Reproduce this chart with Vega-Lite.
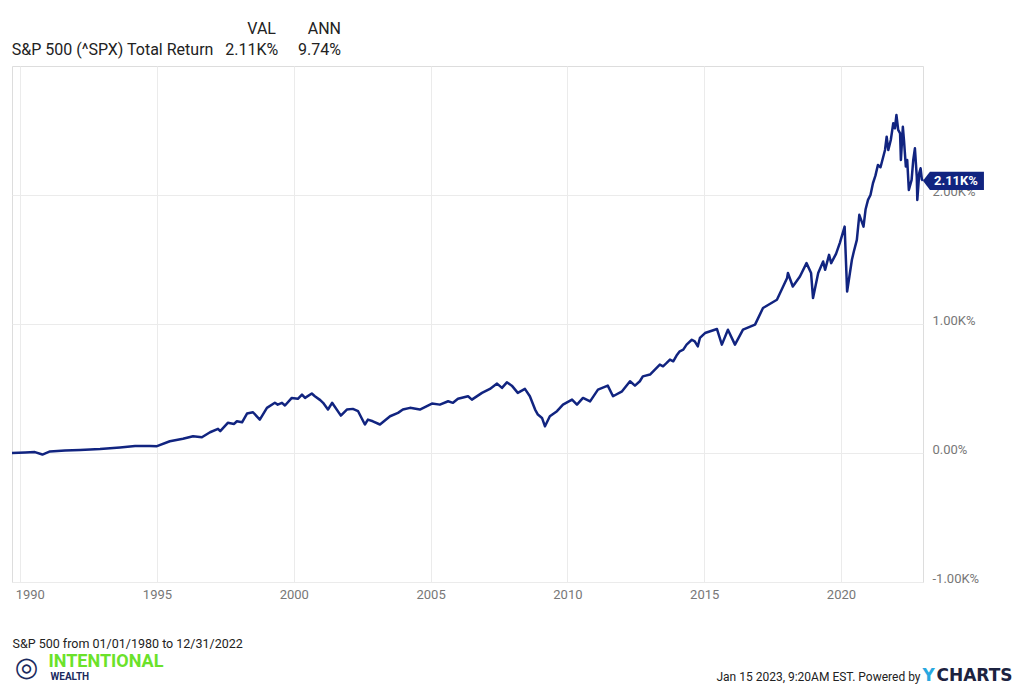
{
  "$schema": "https://vega.github.io/schema/vega-lite/v6.json",
  "width": 911,
  "height": 516,
  "autosize": {"type": "none"},
  "padding": {"left": 12, "top": 66, "right": 101, "bottom": 108},
  "background": "white",
  "config": {"font": "Roboto", "view": {"stroke": "#dddddd", "strokeWidth": 1}},
  "title": {
    "text": "VAL\u00a0\u00a0\u00a0\u00a0\u00a0\u00a0\u00a0\u00a0ANN",
    "subtitle": "S&P 500 (^SPX) Total Return\u00a0\u00a0\u00a02.11K%\u00a0\u00a0\u00a0\u00a0\u00a09.74%",
    "anchor": "start",
    "align": "right",
    "dx": 329,
    "frame": "group",
    "font": "Roboto",
    "fontSize": 16,
    "fontWeight": "normal",
    "color": "#222222",
    "subtitleFont": "Roboto",
    "subtitleFontSize": 16,
    "subtitleColor": "#222222",
    "subtitlePadding": 5,
    "offset": 8
  },
  "data": {
    "values": [
      {"date": "1989-09-14", "value": 0},
      {"date": "1990-03-08", "value": 4},
      {"date": "1990-07-17", "value": 7},
      {"date": "1990-10-25", "value": -12},
      {"date": "1991-02-03", "value": 12},
      {"date": "1991-08-23", "value": 19},
      {"date": "1992-03-11", "value": 23},
      {"date": "1992-12-03", "value": 31},
      {"date": "1993-08-26", "value": 43},
      {"date": "1994-03-15", "value": 54},
      {"date": "1994-09-28", "value": 54},
      {"date": "1995-01-01", "value": 53},
      {"date": "1995-06-22", "value": 91},
      {"date": "1995-12-14", "value": 110},
      {"date": "1996-04-27", "value": 130},
      {"date": "1996-08-23", "value": 122},
      {"date": "1996-12-10", "value": 161},
      {"date": "1997-03-26", "value": 187},
      {"date": "1997-04-25", "value": 169},
      {"date": "1997-08-04", "value": 234},
      {"date": "1997-10-27", "value": 225},
      {"date": "1997-12-03", "value": 246},
      {"date": "1998-02-10", "value": 238},
      {"date": "1998-04-17", "value": 306},
      {"date": "1998-07-06", "value": 316},
      {"date": "1998-10-05", "value": 259},
      {"date": "1999-01-08", "value": 350},
      {"date": "1999-04-24", "value": 389},
      {"date": "1999-06-01", "value": 375},
      {"date": "1999-07-28", "value": 389},
      {"date": "1999-09-06", "value": 368},
      {"date": "1999-12-06", "value": 427},
      {"date": "2000-02-25", "value": 420},
      {"date": "2000-04-20", "value": 453},
      {"date": "2000-05-31", "value": 427},
      {"date": "2000-08-29", "value": 461},
      {"date": "2000-10-09", "value": 440},
      {"date": "2000-12-20", "value": 410},
      {"date": "2001-01-27", "value": 389},
      {"date": "2001-04-02", "value": 337},
      {"date": "2001-05-27", "value": 389},
      {"date": "2001-09-21", "value": 290},
      {"date": "2001-12-10", "value": 337},
      {"date": "2002-02-28", "value": 342},
      {"date": "2002-05-09", "value": 324},
      {"date": "2002-08-08", "value": 221},
      {"date": "2002-09-17", "value": 259},
      {"date": "2002-11-22", "value": 246},
      {"date": "2003-02-25", "value": 221},
      {"date": "2003-07-10", "value": 285},
      {"date": "2003-10-24", "value": 311},
      {"date": "2003-12-28", "value": 337},
      {"date": "2004-04-01", "value": 350},
      {"date": "2004-08-11", "value": 337},
      {"date": "2005-01-19", "value": 383},
      {"date": "2005-05-05", "value": 375},
      {"date": "2005-08-23", "value": 401},
      {"date": "2005-10-27", "value": 389},
      {"date": "2006-01-01", "value": 420},
      {"date": "2006-05-16", "value": 440},
      {"date": "2006-07-06", "value": 414},
      {"date": "2006-11-18", "value": 466},
      {"date": "2007-03-04", "value": 497},
      {"date": "2007-06-07", "value": 538},
      {"date": "2007-08-12", "value": 505},
      {"date": "2007-10-16", "value": 548},
      {"date": "2007-12-21", "value": 522},
      {"date": "2008-03-10", "value": 466},
      {"date": "2008-06-13", "value": 497},
      {"date": "2008-08-18", "value": 440},
      {"date": "2008-10-27", "value": 337},
      {"date": "2008-12-03", "value": 298},
      {"date": "2009-01-27", "value": 272},
      {"date": "2009-03-08", "value": 207},
      {"date": "2009-05-12", "value": 285},
      {"date": "2009-08-15", "value": 324},
      {"date": "2009-11-03", "value": 375},
      {"date": "2010-03-04", "value": 414},
      {"date": "2010-05-09", "value": 375},
      {"date": "2010-07-28", "value": 427},
      {"date": "2010-10-31", "value": 400},
      {"date": "2011-02-13", "value": 491},
      {"date": "2011-06-24", "value": 522},
      {"date": "2011-09-02", "value": 440},
      {"date": "2012-01-01", "value": 478},
      {"date": "2012-04-16", "value": 556},
      {"date": "2012-06-21", "value": 522},
      {"date": "2012-08-25", "value": 556},
      {"date": "2012-10-04", "value": 594},
      {"date": "2013-01-08", "value": 608},
      {"date": "2013-03-14", "value": 646},
      {"date": "2013-05-19", "value": 685},
      {"date": "2013-07-01", "value": 672},
      {"date": "2013-08-18", "value": 698},
      {"date": "2013-10-01", "value": 724},
      {"date": "2013-11-14", "value": 711},
      {"date": "2013-12-28", "value": 755},
      {"date": "2014-02-09", "value": 788},
      {"date": "2014-03-28", "value": 801},
      {"date": "2014-05-11", "value": 840},
      {"date": "2014-07-20", "value": 878},
      {"date": "2014-08-28", "value": 865},
      {"date": "2014-10-08", "value": 827},
      {"date": "2014-11-05", "value": 892},
      {"date": "2015-01-12", "value": 930},
      {"date": "2015-06-21", "value": 961},
      {"date": "2015-08-25", "value": 840},
      {"date": "2015-11-14", "value": 956},
      {"date": "2016-02-16", "value": 840},
      {"date": "2016-06-02", "value": 956},
      {"date": "2016-11-10", "value": 995},
      {"date": "2017-02-24", "value": 1124},
      {"date": "2017-08-29", "value": 1188},
      {"date": "2018-01-12", "value": 1356},
      {"date": "2018-01-23", "value": 1395},
      {"date": "2018-03-29", "value": 1291},
      {"date": "2018-07-02", "value": 1368},
      {"date": "2018-09-28", "value": 1472},
      {"date": "2018-11-28", "value": 1395},
      {"date": "2018-12-24", "value": 1201},
      {"date": "2019-03-03", "value": 1395},
      {"date": "2019-05-08", "value": 1485},
      {"date": "2019-06-03", "value": 1420},
      {"date": "2019-07-26", "value": 1536},
      {"date": "2019-08-23", "value": 1472},
      {"date": "2019-10-27", "value": 1544},
      {"date": "2019-12-16", "value": 1627},
      {"date": "2020-02-19", "value": 1755},
      {"date": "2020-03-23", "value": 1252},
      {"date": "2020-05-26", "value": 1498},
      {"date": "2020-06-20", "value": 1560},
      {"date": "2020-07-31", "value": 1652},
      {"date": "2020-09-02", "value": 1846},
      {"date": "2020-10-28", "value": 1755},
      {"date": "2020-11-25", "value": 1890},
      {"date": "2020-12-27", "value": 1962},
      {"date": "2021-01-29", "value": 2000},
      {"date": "2021-03-03", "value": 2091},
      {"date": "2021-04-05", "value": 2150},
      {"date": "2021-05-08", "value": 2233},
      {"date": "2021-06-12", "value": 2215},
      {"date": "2021-08-11", "value": 2349},
      {"date": "2021-09-02", "value": 2452},
      {"date": "2021-09-24", "value": 2349},
      {"date": "2021-10-27", "value": 2426},
      {"date": "2021-11-29", "value": 2556},
      {"date": "2021-12-21", "value": 2517},
      {"date": "2022-01-10", "value": 2620},
      {"date": "2022-02-03", "value": 2504},
      {"date": "2022-02-28", "value": 2478},
      {"date": "2022-03-11", "value": 2272},
      {"date": "2022-04-06", "value": 2529},
      {"date": "2022-04-21", "value": 2426},
      {"date": "2022-05-16", "value": 2220},
      {"date": "2022-06-03", "value": 2272},
      {"date": "2022-06-25", "value": 2039},
      {"date": "2022-08-01", "value": 2117},
      {"date": "2022-08-23", "value": 2272},
      {"date": "2022-09-14", "value": 2362},
      {"date": "2022-10-09", "value": 2142},
      {"date": "2022-10-16", "value": 1962},
      {"date": "2022-11-11", "value": 2169},
      {"date": "2022-11-29", "value": 2207},
      {"date": "2022-12-16", "value": 2120},
      {"date": "2022-12-30", "value": 2110}
    ]
  },
  "layer": [
    {
      "mark": {"type": "line", "color": "#112480", "strokeWidth": 2.5, "strokeJoin": "round"},
      "encoding": {
        "x": {
          "field": "date",
          "type": "temporal",
          "scale": {"domain": [{"year": 1989, "month": 9, "date": 14}, {"year": 2022, "month": 12, "date": 31}]},
          "axis": {
            "values": [{"year": 1990}, {"year": 1995}, {"year": 2000}, {"year": 2005}, {"year": 2010}, {"year": 2015}, {"year": 2020}],
            "format": "%Y",
            "labelFont": "Roboto",
            "labelFontSize": 13,
            "labelColor": "#777777",
            "labelPadding": 6,
            "labelFlush": 10,
            "labelFlushOffset": 5,
            "ticks": false,
            "domain": false,
            "grid": true,
            "gridColor": "#ebebeb",
            "title": "S&P 500 from 01/01/1980 to 12/31/2022",
            "titleX": 0,
            "titleY": 65.5,
            "titleAlign": "left",
            "titleBaseline": "alphabetic",
            "titleFont": "Roboto",
            "titleFontSize": 12.5,
            "titleFontWeight": "normal",
            "titleColor": "#222222"
          }
        },
        "y": {
          "field": "value",
          "type": "quantitative",
          "scale": {"domain": [-1000, 3000], "nice": false},
          "axis": {
            "orient": "right",
            "values": [-1000, 0, 1000, 2000],
            "labelExpr": "datum.value == 0 ? '0.00%' : (datum.value < 0 ? '-' : '') + format(abs(datum.value) / 1000, '.2f') + 'K%'",
            "labelFont": "Roboto",
            "labelFontSize": 13,
            "labelColor": "#777777",
            "labelPadding": 9,
            "labelBaseline": "alphabetic",
            "ticks": false,
            "domain": false,
            "grid": true,
            "gridColor": "#ebebeb",
            "title": "Jan 15 2023, 9:20AM EST. Powered by",
            "titleAngle": 0,
            "titleX": -3,
            "titleY": 614,
            "titleAlign": "right",
            "titleBaseline": "alphabetic",
            "titleFont": "Roboto",
            "titleFontSize": 12,
            "titleFontWeight": "normal",
            "titleColor": "#222222"
          }
        }
      }
    },
    {
      "transform": [{"filter": "datum.value == 2110"}],
      "mark": {"type": "point", "shape": "M0,0L0.23,-0.3L2,-0.3L2,0.3L0.23,0.3Z", "size": 3721, "filled": true, "color": "#112480", "opacity": 1, "strokeWidth": 0},
      "encoding": {
        "x": {
          "field": "date",
          "type": "temporal",
          "axis": {
            "orient": "bottom",
            "labels": false,
            "ticks": false,
            "domain": false,
            "grid": false,
            "title": "INTENTIONAL",
            "titleX": 36,
            "titleY": 84,
            "titleAlign": "left",
            "titleBaseline": "alphabetic",
            "titleFont": "Roboto",
            "titleFontSize": 18,
            "titleFontWeight": "bold",
            "titleColor": "#6be22a"
          }
        },
        "y": {
          "field": "value",
          "type": "quantitative",
          "axis": {
            "orient": "left",
            "labels": false,
            "ticks": false,
            "domain": false,
            "grid": false,
            "title": "WEALTH",
            "titleAngle": 0,
            "titleX": 38,
            "titleY": 613,
            "titleAlign": "left",
            "titleBaseline": "alphabetic",
            "titleFont": "Roboto",
            "titleFontSize": 10,
            "titleFontWeight": "bold",
            "titleColor": "#1b2a5e"
          }
        }
      }
    },
    {
      "transform": [
        {"filter": "datum.value == 2110"},
        {"calculate": "format(datum.value / 1000, '.2f') + 'K%'", "as": "label"}
      ],
      "mark": {"type": "text", "align": "left", "baseline": "middle", "dx": 11, "color": "white", "font": "Roboto", "fontWeight": "bold", "fontSize": 13},
      "encoding": {
        "x": {
          "field": "date",
          "type": "temporal",
          "axis": {
            "orient": "bottom",
            "labels": false,
            "ticks": false,
            "domain": false,
            "grid": false,
            "title": "CHARTS",
            "titleX": 924,
            "titleY": 98,
            "titleAlign": "left",
            "titleBaseline": "alphabetic",
            "titleFont": "DejaVu Sans",
            "titleFontSize": 17,
            "titleFontWeight": "bold",
            "titleColor": "#1c2340"
          }
        },
        "y": {
          "field": "value",
          "type": "quantitative",
          "axis": {
            "orient": "right",
            "labels": false,
            "ticks": false,
            "domain": false,
            "grid": false,
            "title": "Y",
            "titleAngle": 0,
            "titleX": -1,
            "titleY": 614,
            "titleAlign": "left",
            "titleBaseline": "alphabetic",
            "titleFont": "DejaVu Sans",
            "titleFontSize": 17,
            "titleFontWeight": "bold",
            "titleColor": "#29a8e0"
          }
        },
        "text": {"field": "label"}
      }
    },
    {
      "transform": [{"filter": "datum.value == 2110"}],
      "mark": {"type": "point", "opacity": 0, "size": 1},
      "encoding": {
        "x": {"field": "date", "type": "temporal", "axis": null},
        "y": {
          "field": "value",
          "type": "quantitative",
          "axis": {
            "orient": "left",
            "labels": false,
            "ticks": false,
            "domain": false,
            "grid": false,
            "title": "◎",
            "titleAngle": 0,
            "titleX": 14,
            "titleY": 601,
            "titleAlign": "center",
            "titleBaseline": "middle",
            "titleFont": "DejaVu Sans",
            "titleFontSize": 27,
            "titleFontWeight": "bold",
            "titleColor": "#1b2a5e"
          }
        }
      }
    }
  ],
  "resolve": {"axis": {"x": "independent", "y": "independent"}}
}
